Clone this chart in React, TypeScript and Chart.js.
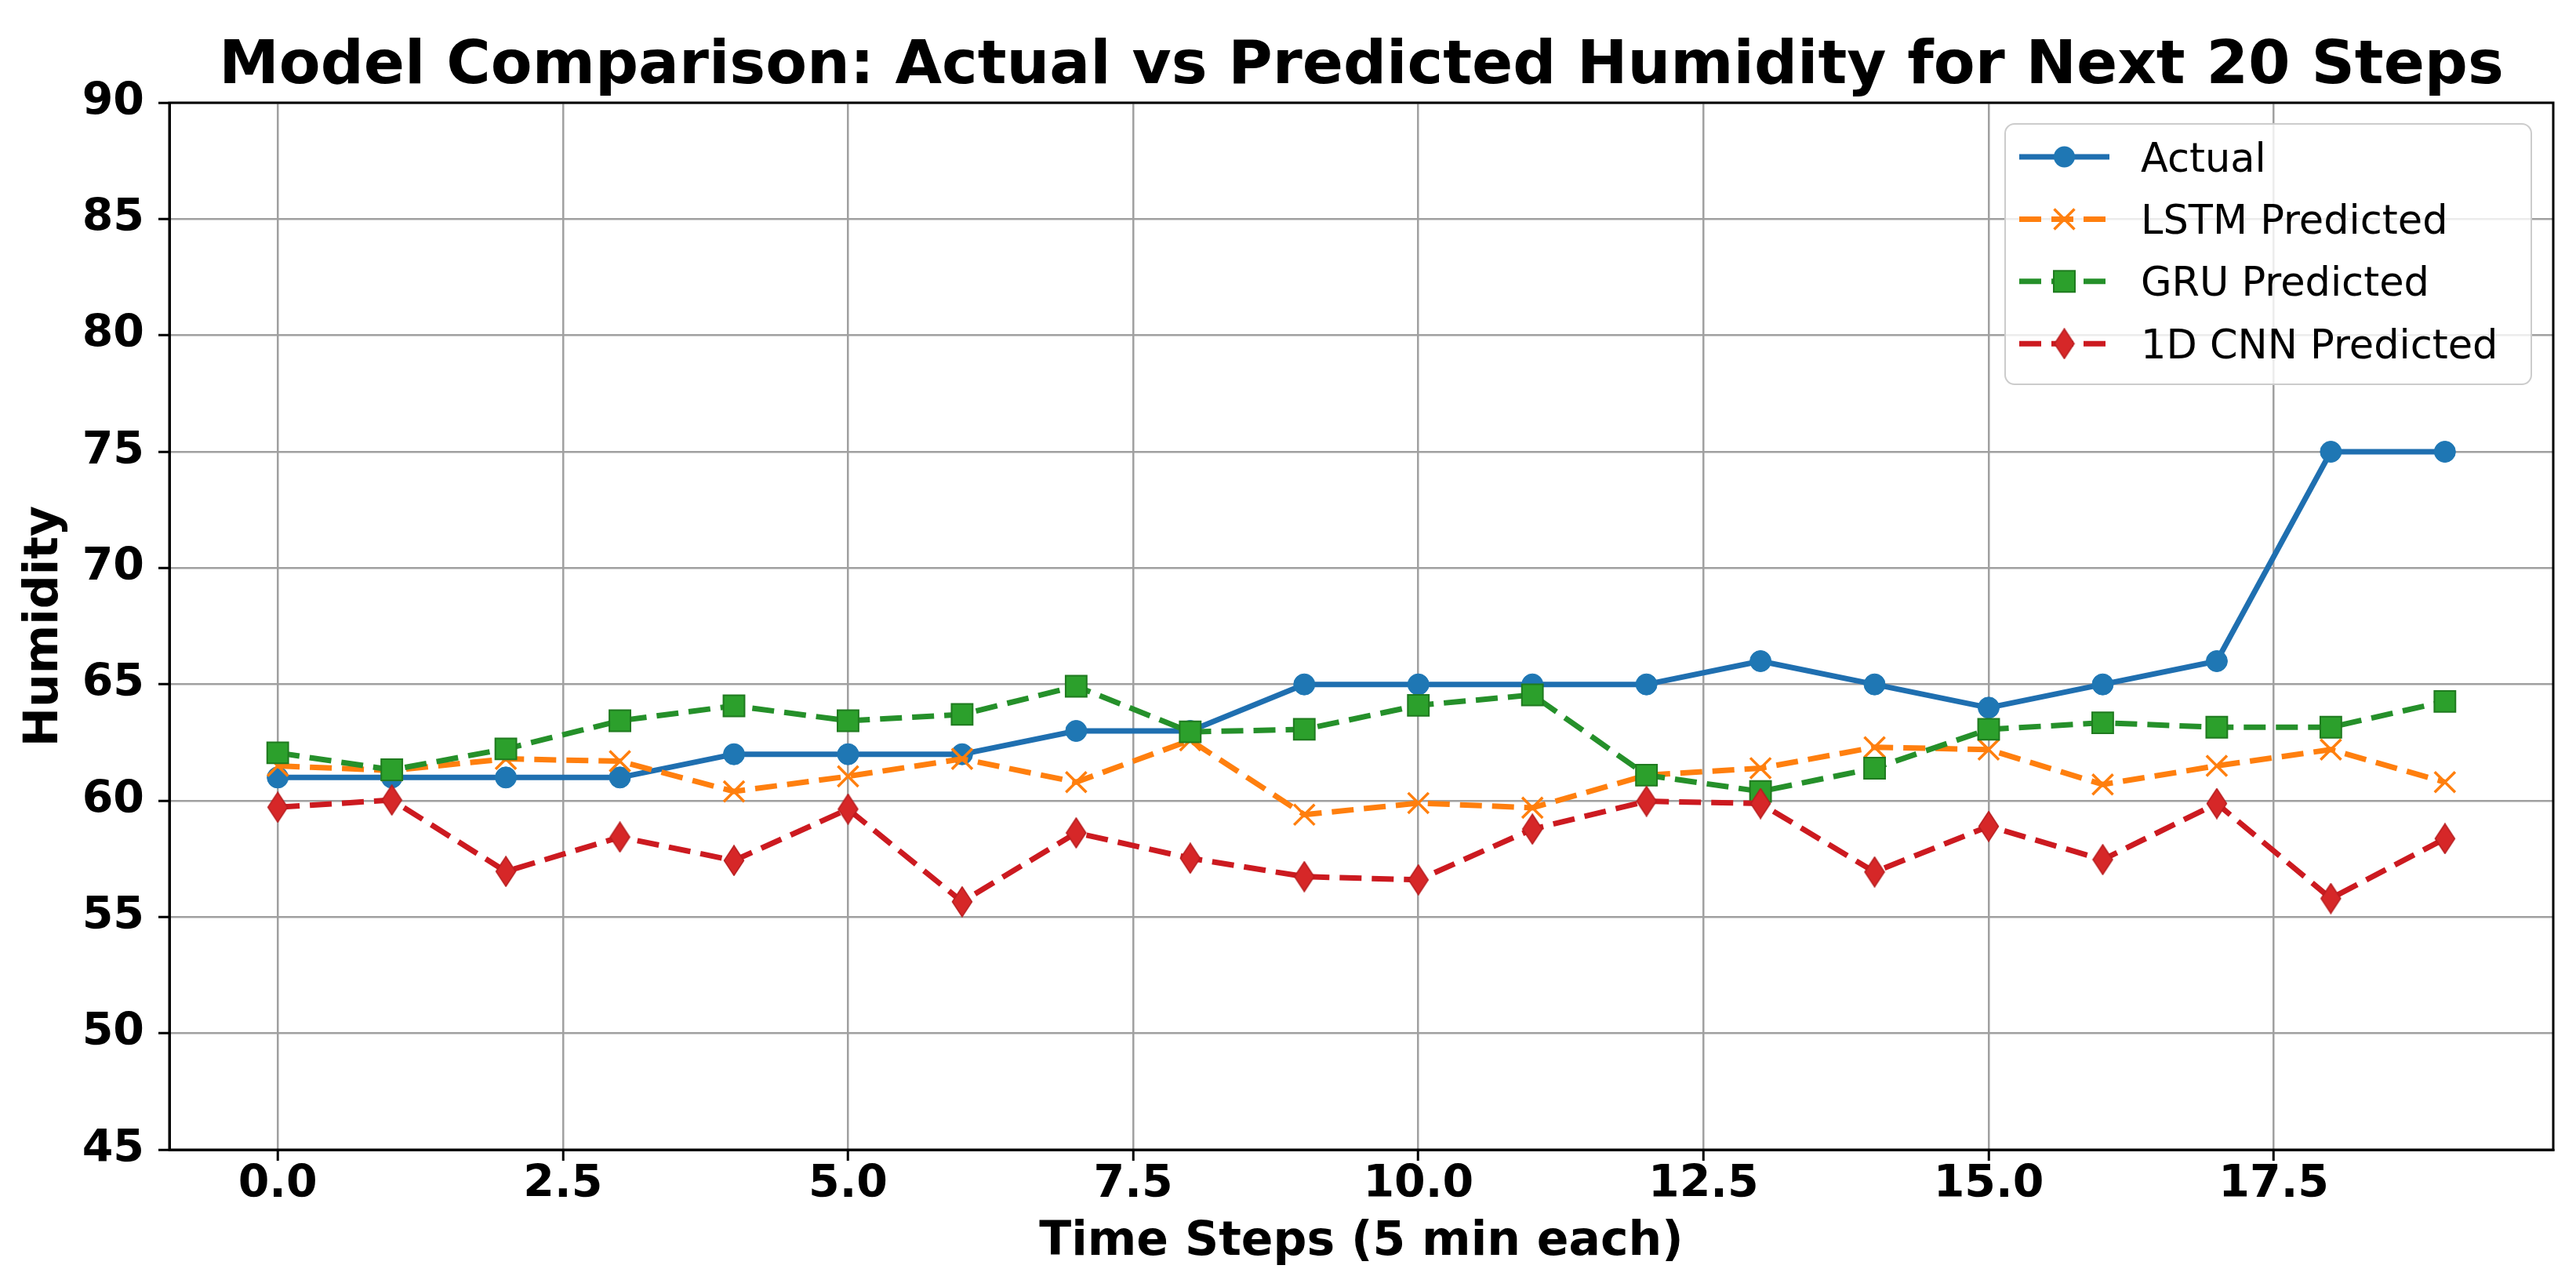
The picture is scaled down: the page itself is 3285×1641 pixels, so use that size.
import React, { useEffect, useRef } from 'react';
import { Chart, registerables } from 'chart.js';

Chart.register(...registerables);

// ---------- data ----------
const steps = [0, 1, 2, 3, 4, 5, 6, 7, 8, 9, 10, 11, 12, 13, 14, 15, 16, 17, 18, 19];
const actualValues = [61, 61, 61, 61, 62, 62, 62, 63, 63, 65, 65, 65, 65, 66, 65, 64, 65, 66, 75, 75];
const lstmValues = [61.5, 61.3, 61.8, 61.7, 60.4, 61.05, 61.8, 60.8, 62.6, 59.4, 59.9, 59.7, 61.1, 61.4, 62.3, 62.2, 60.7, 61.5, 62.2, 60.8];
const gruValues = [62.06, 61.33, 62.23, 63.44, 64.08, 63.44, 63.71, 64.92, 62.96, 63.07, 64.1, 64.55, 61.1, 60.4, 61.4, 63.07, 63.35, 63.16, 63.16, 64.27];
const cnnValues = [59.72, 60.03, 56.96, 58.44, 57.43, 59.64, 55.66, 58.62, 57.53, 56.74, 56.6, 58.78, 59.98, 59.88, 56.94, 58.9, 57.47, 59.88, 55.8, 58.37];
const seriesNames = ['Actual', 'LSTM Predicted', 'GRU Predicted', '1D CNN Predicted'];
const xTicks = [0, 2.5, 5, 7.5, 10, 12.5, 15, 17.5];
const yTicks = [45, 50, 55, 60, 65, 70, 75, 80, 85, 90];
const titleText = 'Model Comparison: Actual vs Predicted Humidity for Next 20 Steps';
const xTitle = 'Time Steps (5 min each)';
const yTitle = 'Humidity';

const FONT = "'DejaVu Sans', sans-serif";
const W = 3285;
const H = 1641;

function makeDiamond(): HTMLCanvasElement {
  const c = document.createElement('canvas');
  c.width = 28;
  c.height = 40;
  const g = c.getContext('2d')!;
  g.beginPath();
  g.moveTo(14, 1);
  g.lineTo(26.5, 20);
  g.lineTo(14, 39);
  g.lineTo(1.5, 20);
  g.closePath();
  g.fillStyle = '#d62728';
  g.fill();
  g.lineWidth = 1.5;
  g.strokeStyle = '#b81d1f';
  g.stroke();
  return c;
}

export default function App() {
  const ref = useRef<HTMLCanvasElement | null>(null);

  useEffect(() => {
    if (!ref.current) return;
    const diamond = makeDiamond();
    const pts = (vals: number[]) => steps.map((s, i) => ({ x: s, y: vals[i] }));

    const legendMarkers: any[] = [
      { color: '#1f6fb0', dash: [], type: 'circle' },
      { color: '#ff7f0e', dash: [28, 13], type: 'cross' },
      { color: '#25902a', dash: [28, 13], type: 'square' },
      { color: '#cc1a20', dash: [28, 13], type: 'diamond' },
    ];

    const decor = {
      id: 'decor',
      afterDraw(chart: any) {
        const ctx = chart.ctx as CanvasRenderingContext2D;
        const ca = chart.chartArea;
        ctx.save();
        ctx.strokeStyle = '#000';
        ctx.lineWidth = 3;
        ctx.strokeRect(ca.left, ca.top, ca.right - ca.left, ca.bottom - ca.top);
        ctx.fillStyle = '#000';
        ctx.font = `bold 77px ${FONT}`;
        ctx.textAlign = 'center';
        ctx.textBaseline = 'alphabetic';
        ctx.fillText(titleText, (ca.left + ca.right) / 2, 106);
        const bx = 2557, by = 158, bw = 671, bh = 332;
        ctx.beginPath();
        (ctx as any).roundRect(bx, by, bw, bh, 12);
        ctx.fillStyle = 'rgba(255,255,255,0.8)';
        ctx.fill();
        ctx.lineWidth = 2;
        ctx.strokeStyle = '#cccccc';
        ctx.stroke();
        const rowY0 = 200;
        const rowStep = 79.4;
        const lx0 = 2575, lx1 = 2690, mx = 2632.5, tx = 2730;
        seriesNames.forEach((name, i) => {
          const y = rowY0 + rowStep * i;
          const m = legendMarkers[i];
          ctx.save();
          ctx.beginPath();
          ctx.rect(lx0, y - 10, lx1 - lx0, 20);
          ctx.clip();
          ctx.beginPath();
          ctx.setLineDash(m.dash);
          ctx.lineCap = 'butt';
          ctx.lineWidth = 7;
          ctx.strokeStyle = m.color;
          ctx.moveTo(lx0, y);
          ctx.lineTo(lx1, y);
          ctx.stroke();
          ctx.restore();
          ctx.setLineDash([]);
          if (m.type === 'circle') {
            ctx.beginPath();
            ctx.arc(mx, y, 13.5, 0, Math.PI * 2);
            ctx.fillStyle = '#1f77b4';
            ctx.fill();
          } else if (m.type === 'cross') {
            ctx.beginPath();
            ctx.lineWidth = 3.5;
            ctx.strokeStyle = '#ff7f0e';
            ctx.moveTo(mx - 13, y - 13);
            ctx.lineTo(mx + 13, y + 13);
            ctx.moveTo(mx + 13, y - 13);
            ctx.lineTo(mx - 13, y + 13);
            ctx.stroke();
          } else if (m.type === 'square') {
            ctx.fillStyle = '#2ca02c';
            ctx.fillRect(mx - 13.5, y - 13.5, 27, 27);
            ctx.lineWidth = 2;
            ctx.strokeStyle = '#1f7a1f';
            ctx.strokeRect(mx - 13.5, y - 13.5, 27, 27);
          } else {
            ctx.drawImage(diamond, mx - diamond.width / 2, y - diamond.height / 2);
          }
          ctx.fillStyle = '#000';
          ctx.font = `51px ${FONT}`;
          ctx.textAlign = 'left';
          ctx.textBaseline = 'alphabetic';
          ctx.fillText(name, tx, y + 18.5);
        });
        ctx.restore();
      },
    };

    const chart = new Chart(ref.current, {
      type: 'line',
      data: {
        datasets: [
          {
            label: seriesNames[0],
            data: pts(actualValues),
            borderColor: '#1f6fb0',
            borderWidth: 7,
            pointStyle: 'circle',
            pointRadius: 13.5,
            pointBackgroundColor: '#1f77b4',
            pointBorderColor: '#1f77b4',
            pointBorderWidth: 1,
            order: 4,
          },
          {
            label: seriesNames[1],
            data: pts(lstmValues),
            borderColor: '#ff7f0e',
            borderWidth: 7,
            borderDash: [28, 13],
            pointStyle: 'crossRot',
            pointRadius: 18.5,
            pointBackgroundColor: '#ff7f0e',
            pointBorderColor: '#ff7f0e',
            pointBorderWidth: 3.5,
            order: 3,
          },
          {
            label: seriesNames[2],
            data: pts(gruValues),
            borderColor: '#25902a',
            borderWidth: 7,
            borderDash: [28, 13],
            pointStyle: 'rect',
            pointRadius: 19,
            pointBackgroundColor: '#2ca02c',
            pointBorderColor: '#1f7a1f',
            pointBorderWidth: 2,
            order: 2,
          },
          {
            label: seriesNames[3],
            data: pts(cnnValues),
            borderColor: '#cc1a20',
            borderWidth: 7,
            borderDash: [28, 13],
            pointStyle: diamond as any,
            pointRadius: 14,
            pointBackgroundColor: '#d62728',
            pointBorderColor: '#d62728',
            order: 1,
          },
        ] as any,
      },
      options: {
        responsive: false,
        devicePixelRatio: 1,
        animation: false,
        events: [],
        layout: { padding: { top: 131, right: 29, left: 0, bottom: 0 } },
        elements: { line: { tension: 0, borderJoinStyle: 'round' } },
        plugins: {
          legend: { display: false },
          title: { display: false },
          tooltip: { enabled: false },
        },
        scales: {
          x: {
            type: 'linear',
            min: -0.95,
            max: 19.95,
            afterFit: (s: any) => { s.height = H - 1466; },
            afterBuildTicks: (s: any) => { s.ticks = xTicks.map((v) => ({ value: v })); },
            ticks: {
              callback: (v: any) => Number(v).toFixed(1),
              color: '#000',
              font: { family: FONT, size: 57, weight: 'bold', lineHeight: 1.1 },
              padding: 0,
              maxRotation: 0,
              autoSkip: false,
            },
            grid: { color: '#a0a0a0', lineWidth: 2.5, tickColor: '#000', tickLength: 14, tickWidth: 3 },
            border: { display: true, color: '#000', width: 3 },
            title: {
              display: true,
              text: xTitle,
              color: '#000',
              font: { family: FONT, size: 60, weight: 'bold', lineHeight: 1.2 },
              padding: { top: 0, bottom: 21 },
            },
          },
          y: {
            type: 'linear',
            min: 45,
            max: 90,
            afterFit: (s: any) => { s.width = 216; },
            afterBuildTicks: (s: any) => { s.ticks = yTicks.map((v) => ({ value: v })); },
            ticks: {
              callback: (v: any) => String(v),
              color: '#000',
              font: { family: FONT, size: 57, weight: 'bold', lineHeight: 1.1 },
              padding: 18,
              autoSkip: false,
            },
            grid: { color: '#a0a0a0', lineWidth: 2.5, tickColor: '#000', tickLength: 14, tickWidth: 3 },
            border: { display: true, color: '#000', width: 3 },
            title: {
              display: true,
              text: yTitle,
              color: '#000',
              font: { family: FONT, size: 60, weight: 'bold', lineHeight: 1.2 },
              padding: { top: 21, bottom: 0 },
            },
          },
        },
      },
      plugins: [decor],
    } as any);

    return () => chart.destroy();
  }, []);

  return (
    <div style={{ position: 'fixed', left: 0, top: 0, width: W, height: H, background: '#fff' }}>
      <canvas ref={ref} width={W} height={H} style={{ display: 'block', width: W, height: H }} />
    </div>
  );
}
